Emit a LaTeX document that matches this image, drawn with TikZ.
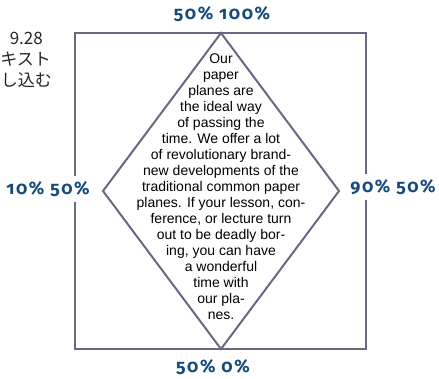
\documentclass[tikz,border=0pt]{standalone}
\usepackage{fontspec}
\newfontfamily\bodyf{Liberation Sans}
\newfontfamily\labf[Numbers=OldStyle,LetterSpace=9]{Fira Sans}
\newfontfamily\cjkf{Noto Sans CJK JP}
\definecolor{framecol}{RGB}{106,104,128}
\definecolor{labcol}{RGB}{22,74,125}
\tikzset{
  frame/.style={draw=framecol, line width=2.8pt},
  dia/.style={draw=framecol, line width=2pt, line join=miter},
  poslab/.style={font=\labf\bfseries\fontsize{18}{21}\selectfont, text=labcol, fill=white, inner sep=5pt},
  jtext/.style={font=\cjkf\fontsize{17}{21}\selectfont, text=black!85, inner sep=0pt, anchor=base east},
  body/.style={font=\bodyf\fontsize{14}{16}\selectfont, align=center, inner sep=0pt}
}
\begin{document}
\begin{tikzpicture}[x=1pt,y=-1pt]
\useasboundingbox (0,0) rectangle (439,379);
% frame
\node[frame, minimum width=291pt, minimum height=316pt, inner sep=0pt] (box) at (220.5,191) {};
% diamond
\coordinate (T) at (221,33);
\coordinate (R) at (339,191);
\coordinate (B) at (221,349);
\coordinate (L) at (103,191);
\draw[dia] (T) -- (R) -- (B) -- (L) -- cycle;
% body text
\node[body] (txt) at (221,186.5) {Our\\paper\\planes are\\the ideal way\\of passing the\\time. We offer a lot\\of revolutionary brand-\\new developments of the\\traditional common paper\\planes. If your lesson, con-\\ference, or lecture turn\\out to be deadly bor-\\ing, you can have\\a wonderful\\time with\\our pla-\\nes.};
% position labels
\node[poslab] (ltop) at (222,14) {50\% 100\%};
\node[poslab] (lleft) at (48,189) {10\% 50\%};
\node[poslab] (lright) at (393,187) {90\% 50\%};
\node[poslab] (lbot) at (213,367) {50\% 0\%};
% japanese text (visible part)
\node[jtext] (j1) at (43,45) {9.28};
\node[jtext] (j2) at (51,66) {キスト};
\node[jtext] (j3) at (52,87) {し込む};
\end{tikzpicture}
\end{document}
